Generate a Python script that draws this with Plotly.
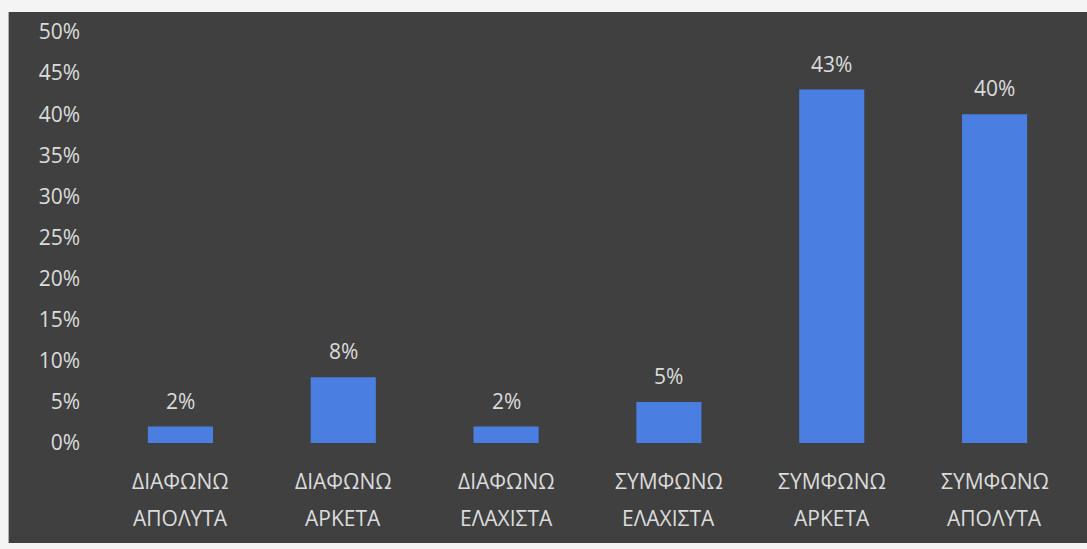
import plotly.graph_objects as go

# Survey responses: share of answers per agreement level
line1 = ["ΔΙΑΦΩΝΩ", "ΔΙΑΦΩΝΩ", "ΔΙΑΦΩΝΩ", "ΣΥΜΦΩΝΩ", "ΣΥΜΦΩΝΩ", "ΣΥΜΦΩΝΩ"]
line2 = ["ΑΠΟΛΥΤΑ", "ΑΡΚΕΤΑ", "ΕΛΑΧΙΣΤΑ", "ΕΛΑΧΙΣΤΑ", "ΑΡΚΕΤΑ", "ΑΠΟΛΥΤΑ"]
categories = [f"{a} {b}" for a, b in zip(line1, line2)]
values = [2, 8, 2, 5, 43, 40]
y_ticks = [0, 5, 10, 15, 20, 25, 30, 35, 40, 45, 50]

BG = "#404040"
TXT = "#dcdcdc"
BAR = "#4a7ee0"
FONT = "Open Sans"
FS = 21

fig = go.Figure()
fig.add_trace(go.Bar(
    x=categories,
    y=values,
    marker=dict(color=BAR, line=dict(width=0)),
    width=0.4,
    hoverinfo="skip",
))

# dark chart panel drawn behind the plot area
fig.add_shape(type="rect", xref="paper", yref="paper",
              x0=-0.0925, x1=1.02, y0=-0.2433, y1=1.0487,
              fillcolor=BG, line=dict(width=0), layer="below")

annotations = []
for cat, v in zip(categories, values):
    annotations.append(dict(x=cat, y=v, xref="x", yref="y", text=f"{v}%",
                            showarrow=False, yanchor="bottom", yshift=10,
                            font=dict(color=TXT, size=FS, family=FONT)))
for cat, a, b in zip(categories, line1, line2):
    annotations.append(dict(x=cat, y=-0.0925, xref="x", yref="paper", text=a,
                            showarrow=False, yanchor="middle",
                            font=dict(color=TXT, size=FS, family=FONT)))
    annotations.append(dict(x=cat, y=-0.1825, xref="x", yref="paper", text=b,
                            showarrow=False, yanchor="middle",
                            font=dict(color=TXT, size=FS, family=FONT)))

fig.update_layout(
    width=1087, height=549,
    margin=dict(l=99, r=11, t=32, b=106),
    paper_bgcolor="#f4f4f4",
    plot_bgcolor=BG,
    showlegend=False,
    annotations=annotations,
    xaxis=dict(showticklabels=False, showgrid=False, zeroline=False,
               showline=False, ticks=""),
    yaxis=dict(range=[0, 50], tickvals=y_ticks,
               ticktext=[f"{t}%" for t in y_ticks],
               showgrid=False, zeroline=False, showline=False, ticks="",
               ticklabelstandoff=18,
               tickfont=dict(color=TXT, size=FS, family=FONT)),
)

fig.write_html("out.html")
